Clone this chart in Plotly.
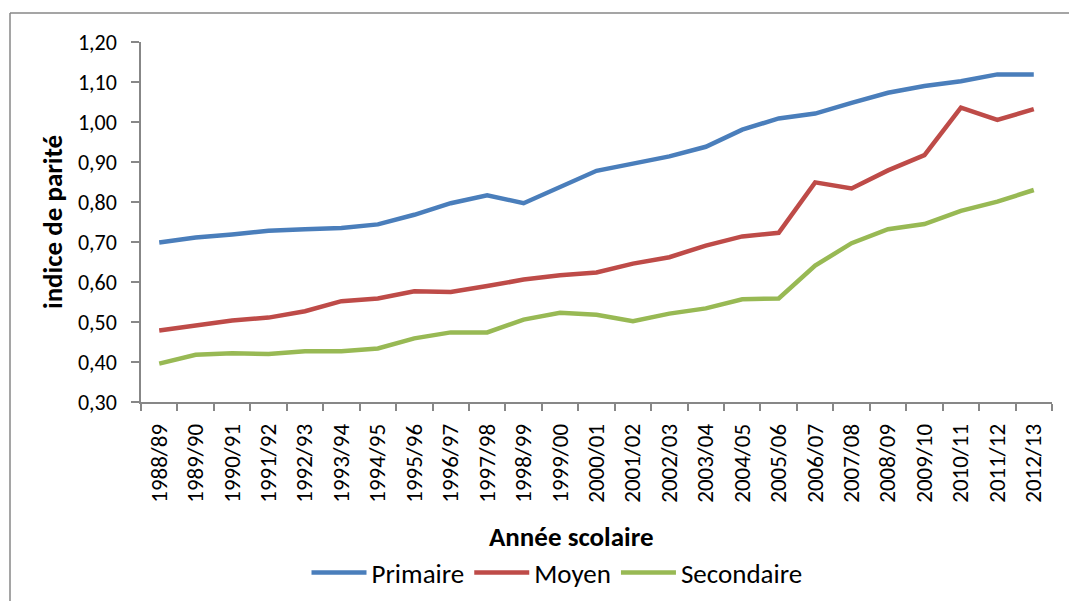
import plotly.graph_objects as go

annees = ["1988/89", "1989/90", "1990/91", "1991/92", "1992/93", "1993/94", "1994/95",
          "1995/96", "1996/97", "1997/98", "1998/99", "1999/00", "2000/01", "2001/02",
          "2002/03", "2003/04", "2004/05", "2005/06", "2006/07", "2007/08", "2008/09",
          "2009/10", "2010/11", "2011/12", "2012/13"]

primaire = [0.699, 0.711, 0.719, 0.728, 0.732, 0.735, 0.744, 0.768, 0.797, 0.817,
            0.797, 0.838, 0.878, 0.896, 0.914, 0.938, 0.981, 1.009, 1.021, 1.048,
            1.073, 1.090, 1.102, 1.119, 1.119]
moyen = [0.479, 0.491, 0.504, 0.511, 0.527, 0.552, 0.559, 0.577, 0.575, 0.590,
         0.606, 0.617, 0.624, 0.646, 0.662, 0.691, 0.714, 0.723, 0.849, 0.834,
         0.879, 0.917, 1.036, 1.005, 1.032]
secondaire = [0.396, 0.418, 0.422, 0.420, 0.427, 0.427, 0.434, 0.459, 0.474, 0.474,
              0.506, 0.523, 0.518, 0.502, 0.521, 0.534, 0.557, 0.559, 0.641, 0.697,
              0.732, 0.745, 0.778, 0.801, 0.830]

y_ticks = [0.3, 0.4, 0.5, 0.6, 0.7, 0.8, 0.9, 1.0, 1.1, 1.2]

FONT = "Carlito, Lato, sans-serif"
AXIS_GRAY = "#878787"

fig = go.Figure()
for name, vals, color in [("Primaire", primaire, "#4A7EBB"),
                          ("Moyen", moyen, "#BE4B48"),
                          ("Secondaire", secondaire, "#98B954")]:
    fig.add_trace(go.Scatter(x=annees, y=vals, mode="lines", name=name,
                             line=dict(color=color, width=4.5)))

# the page body adds an 8px offset; work in screen coordinates
OFF = 8
W, H = 1077 - OFF, 601 - OFF
PL, PR, PT, PB = 141, 1052, 42, 402  # plot area on screen
L, R, T, B = PL - OFF, 1077 - PR, PT - OFF, 601 - PB
pw, ph = PR - PL, PB - PT

def px(x):
    return (x - PL) / pw

def py(y):
    return (PB - y) / ph

def cx(x):
    return (x - OFF) / W

def cy(y):
    return (H - (y - OFF)) / H

fig.update_layout(
    width=W, height=H,
    margin=dict(l=L, r=R, t=T, b=B, autoexpand=False),
    paper_bgcolor="white", plot_bgcolor="white",
    font=dict(family=FONT, size=22, color="#000000"),
    separators=", ",
    showlegend=True,
    legend=dict(orientation="h", xref="container", yref="container",
                x=cx(557), y=cy(573), xanchor="center", yanchor="middle",
                font=dict(size=27), itemwidth=55, traceorder="normal"),
    xaxis=dict(type="category", range=[-0.5, len(annees) - 0.5], automargin=False,
               showline=True, linecolor=AXIS_GRAY, linewidth=1.5,
               ticks="outside", ticklen=7, tickcolor=AXIS_GRAY, tickwidth=1.5,
               tickson="boundaries", tickangle=-90, showgrid=False, zeroline=False,
               tickfont=dict(size=23), ticklabelstandoff=11),
    yaxis=dict(range=[0.3, 1.2], tickvals=y_ticks, tickformat=".2f", automargin=False,
               showline=True, linecolor=AXIS_GRAY, linewidth=1.5,
               ticks="outside", ticklen=8, tickcolor=AXIS_GRAY, tickwidth=1.5,
               showgrid=False, zeroline=False, tickfont=dict(size=22),
               ticklabelstandoff=10),
    annotations=[
        dict(text="<b>indice de parité</b>", xref="paper", yref="paper",
             x=px(52), y=py(222), xanchor="center", yanchor="middle",
             textangle=-90, showarrow=False, font=dict(size=27)),
        dict(text="<b>Année scolaire</b>", xref="paper", yref="paper",
             x=px(571), y=py(536), xanchor="center", yanchor="middle",
             showarrow=False, font=dict(size=27)),
    ],
    shapes=[
        dict(type="line", xref="paper", yref="paper", x0=px(10), x1=px(1100),
             y0=py(13), y1=py(13), line=dict(color=AXIS_GRAY, width=1.5)),
        dict(type="line", xref="paper", yref="paper", x0=px(10), x1=px(10),
             y0=py(13), y1=py(620), line=dict(color=AXIS_GRAY, width=1.5)),
    ],
)

fig.write_html("out.html")
